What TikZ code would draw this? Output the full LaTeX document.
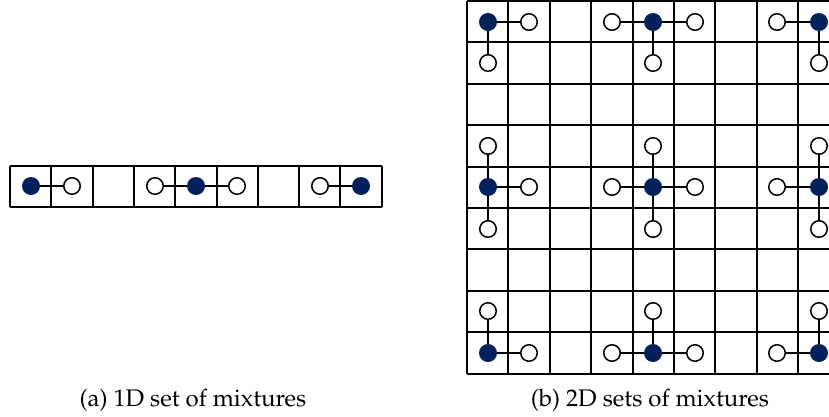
\documentclass[tikz,border=0pt]{standalone}
\usepackage[T1]{fontenc}
\usepackage{mathpazo}
\definecolor{navy}{RGB}{0,33,91}
\tikzset{
 gridline/.style={line width=1.6pt,black},
 full/.style={circle,fill=navy,minimum size=18pt,inner sep=0pt},
 hollow/.style={circle,draw=black,fill=white,line width=1.5pt,minimum size=16.5pt,inner sep=0pt},
 link/.style={line width=1.6pt,black},
 caption/.style={font=\fontsize{24}{28}\selectfont,anchor=base}
}
\begin{document}
\begin{tikzpicture}[x=1pt,y=-1pt]
\useasboundingbox (0,0) rectangle (829,416);
\begin{scope}
\clip (0,0) rectangle (829,416);
% 1D grid
\foreach \i in {0,...,9}{
  \pgfmathtruncatemacro{\xx}{round(10+41.3*\i)}
  \draw[gridline] (\xx,166) -- (\xx,207);
}
\draw[gridline] (10,166) -- (382,166);
\draw[gridline] (10,207) -- (382,207);
% 1D nodes
\foreach \c in {1,5,9}{
  \pgfmathtruncatemacro{\xx}{round(10+41.3*(\c-0.5))}
  \node[full] (a\c) at (\xx,186) {};
}
\foreach \c in {2,4,6,8}{
  \pgfmathtruncatemacro{\xx}{round(10+41.3*(\c-0.5))}
  \node[hollow] (a\c) at (\xx,186) {};
}
\draw[link] (a1) -- (a2);
\draw[link] (a4) -- (a5);
\draw[link] (a5) -- (a6);
\draw[link] (a8) -- (a9);
% 2D grid
\foreach \i in {0,...,9}{
  \pgfmathtruncatemacro{\xx}{round(467+41.4*\i)}
  \pgfmathtruncatemacro{\yy}{round(1+41.4*\i)}
  \draw[gridline] (\xx,1) -- (\xx,374);
  \draw[gridline] (467,\yy) -- (840,\yy);
}
% 2D nodes
\foreach \r in {1,5,9}{
 \foreach \c in {1,5,9}{
  \pgfmathtruncatemacro{\fx}{round(467+41.4*(\c-0.5))}
  \pgfmathtruncatemacro{\fy}{round(1+41.4*(\r-0.5))}
  \node[full] (F\r\c) at (\fx,\fy) {};
  \foreach \dr/\dc/\t in {-1/0/N,1/0/S,0/-1/W,0/1/E}{
   \pgfmathtruncatemacro{\rr}{\r+\dr}
   \pgfmathtruncatemacro{\cc}{\c+\dc}
   \ifnum\rr>0 \ifnum\rr<10 \ifnum\cc>0 \ifnum\cc<10
     \pgfmathtruncatemacro{\hx}{round(467+41.4*(\cc-0.5))}
     \pgfmathtruncatemacro{\hy}{round(1+41.4*(\rr-0.5))}
     \node[hollow] (H\r\c\t) at (\hx,\hy) {};
     \draw[link] (F\r\c) -- (H\r\c\t);
   \fi\fi\fi\fi
  }
 }
}
\end{scope}
\node[caption] (capa) at (193,406) {(a) 1D set of mixtures};
\node[caption] (capb) at (650,406) {(b) 2D sets of mixtures};
\end{tikzpicture}
\end{document}
